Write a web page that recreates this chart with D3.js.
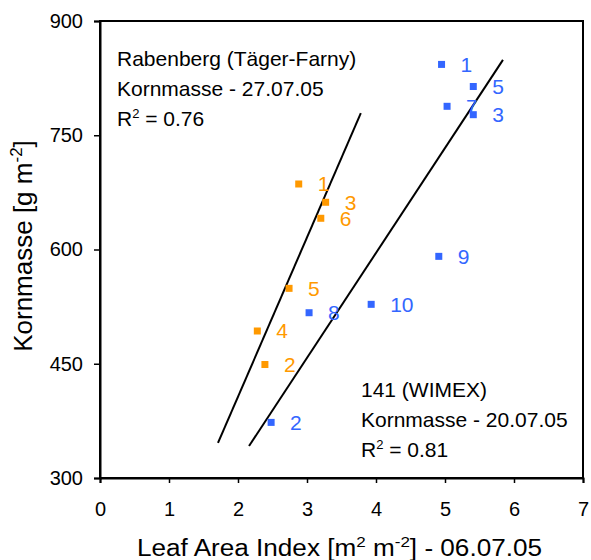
<!DOCTYPE html>
<html>
<head>
<meta charset="utf-8">
<script src="https://cdn.jsdelivr.net/npm/d3@7"></script>
<style>
body { margin:0; background:#fff; }
text { font-family: "Liberation Sans", Arial, sans-serif; }
</style>
</head>
<body>
<div id="chart"></div>
<script>
// Rabenberg (orange) and 141 WIMEX (blue)
var orangeIds = ["1","3","6","5","4","2"];
var orangeLai = [2.88, 3.27, 3.20, 2.74, 2.28, 2.39];
var orangeKorn = [686, 662, 641, 549, 493, 449];

var blueIds = ["1","5","7","3","9","10","8","2"];
var blueLai = [4.95, 5.41, 5.03, 5.41, 4.91, 3.93, 3.03, 2.48];
var blueKorn = [843, 814, 788, 777, 591, 528, 517, 373];

// trend lines, end points
var orangeFitX = [1.71, 3.78];
var orangeFitY = [346, 779];
var blueFitX = [2.16, 5.84];
var blueFitY = [342, 849];

var xTicks = [0,1,2,3,4,5,6,7];
var yTicks = [300,450,600,750,900];

var orange = "#FF9900", blue = "#3366FF";

var svg = d3.select('#chart').append('svg')
    .attr('width',591).attr('height',560);

var x = d3.scaleLinear().domain([0,7]).range([100,583]);
var y = d3.scaleLinear().domain([300,900]).range([478,21]);

// frame
svg.append('rect')
    .attr('x',x(0)).attr('y',y(900))
    .attr('width',x(7)-x(0)).attr('height',y(300)-y(900))
    .attr('fill','none').attr('stroke','black').attr('stroke-width',2);

var yAxis = svg.append('g')
    .attr('transform','translate('+x(0)+',0)')
    .call(d3.axisLeft(y).tickValues(yTicks).tickSize(6).tickPadding(11));
var xAxis = svg.append('g')
    .attr('transform','translate(0,'+y(300)+')')
    .call(d3.axisBottom(x).tickValues(xTicks).tickFormat(d3.format('d'))
	  .tickSize(5).tickPadding(19));

[xAxis,yAxis].forEach(function(a){
    a.select('.domain').attr('stroke-width',2);
    a.selectAll('.tick line').attr('stroke-width',1.5);
    a.selectAll('.tick text').style('font-size','20px').attr('fill','black');
});

// trend lines
function fitLine(xs,ys){
    svg.append('line')
	.attr('x1',x(xs[0])).attr('y1',y(ys[0]))
	.attr('x2',x(xs[1])).attr('y2',y(ys[1]))
	.attr('stroke','black').attr('stroke-width',2);
}
fitLine(orangeFitX,orangeFitY);
fitLine(blueFitX,blueFitY);

function series(ids,lai,korn,color){
    var pts = ids.map(function(d,i){ return {id:d, x:lai[i], y:korn[i]}; });
    var g = svg.append('g');
    g.selectAll('rect')
	.data(pts)
	.enter()
	.append('rect')
	.attr('x',function(d){ return x(d.x)-3.5; })
	.attr('y',function(d){ return y(d.y)-3.5; })
	.attr('width',7).attr('height',7)
	.attr('fill',color);
    g.selectAll('text')
	.data(pts)
	.enter()
	.append('text')
	.attr('x',function(d){ return x(d.x)+19; })
	.attr('y',function(d){ return y(d.y)+7.5; })
	.attr('fill',color)
	.style('font-size','21px')
	.text(function(d){ return d.id; });
}
series(orangeIds,orangeLai,orangeKorn,orange);
series(blueIds,blueLai,blueKorn,blue);

// annotations
function note(x0,y0,title,sub,r2){
    svg.append('text').attr('x',x0).attr('y',y0).style('font-size','21px').text(title);
    svg.append('text').attr('x',x0).attr('y',y0+30).style('font-size','21px').text(sub);
    var t = svg.append('text').attr('x',x0).attr('y',y0+60).style('font-size','21px');
    t.append('tspan').text('R');
    t.append('tspan').attr('dy',-8).style('font-size','13px').text('2');
    t.append('tspan').attr('dy',8).text(' = '+r2);
}
note(117,65.5,'Rabenberg (Täger-Farny)','Kornmasse - 27.07.05','0.76');
note(361,397,'141 (WIMEX)','Kornmasse - 20.07.05','0.81');

// axis titles
var yt = svg.append('text')
    .attr('transform','translate(32,246) rotate(-90)')
    .attr('text-anchor','middle')
    .style('font-size','26px');
yt.append('tspan').text('Kornmasse [g m');
yt.append('tspan').attr('dy',-10).style('font-size','17px').text('-2');
yt.append('tspan').attr('dy',10).text(']');

var xt = svg.append('text')
    .attr('x',137).attr('y',556)
    .attr('textLength',405)
    .attr('lengthAdjust','spacingAndGlyphs')
    .style('font-size','23px');
xt.append('tspan').text('Leaf Area Index [m');
xt.append('tspan').attr('dy',-9).style('font-size','15px').text('2');
xt.append('tspan').attr('dy',9).text(' m');
xt.append('tspan').attr('dy',-9).style('font-size','15px').text('-2');
xt.append('tspan').attr('dy',9).text('] - 06.07.05');
</script>
</body>
</html>
